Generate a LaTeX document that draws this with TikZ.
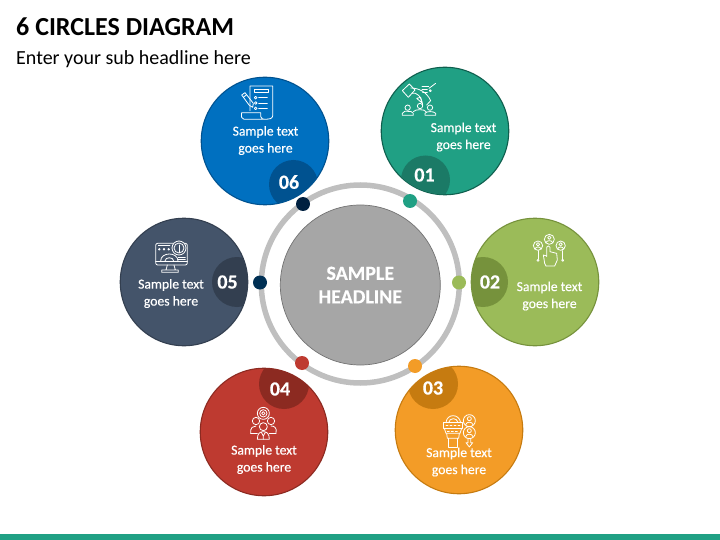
\documentclass[tikz,border=0pt]{standalone}
\usepackage{fontspec}
\setmainfont{Carlito}
\newfontfamily\samplefont[FakeBold=0.35]{Carlito}
\newfontfamily\heavyfont[FakeBold=0.4]{Carlito Bold}
\tikzset{
  bigdisc/.style={circle, minimum size=127.5pt, inner sep=0pt, line width=1.1pt},
  dotnode/.style={circle, minimum size=14pt, inner sep=0pt},
  sampletext/.style={text=white, align=center, inner sep=0pt, font=\samplefont\fontsize{13.7}{17}\selectfont},
  numtext/.style={text=white, inner sep=0pt, font=\heavyfont\fontsize{20}{20}\selectfont},
  iconline/.style={draw=white, line width=0.8pt, line join=round, line cap=round}
}
\begin{document}
\begin{tikzpicture}[x=1pt,y=-1pt]
    % Define colors
    \definecolor{tealmain}{RGB}{32,160,132}
    \definecolor{tealdark}{RGB}{27,122,102}
    \definecolor{tealedge}{RGB}{15,95,78}
    \definecolor{greenmain}{RGB}{155,187,89}
    \definecolor{greendark}{RGB}{118,146,60}
    \definecolor{orangemain}{RGB}{243,156,39}
    \definecolor{orangedark}{RGB}{198,123,16}
    \definecolor{redmain}{RGB}{190,58,48}
    \definecolor{reddark}{RGB}{140,42,33}
    \definecolor{slatemain}{RGB}{68,84,106}
    \definecolor{slatedark}{RGB}{51,63,80}
    \definecolor{bluemain}{RGB}{0,112,192}
    \definecolor{bluedark}{RGB}{0,82,144}
    \definecolor{navydot}{RGB}{0,32,64}
    \definecolor{petroldot}{RGB}{0,48,84}
    \definecolor{ringgrey}{RGB}{191,191,191}
    \definecolor{centregrey}{RGB}{166,166,166}
    \useasboundingbox (0,0) rectangle (720,540);

    % Draw title and bottom bar
    \node[anchor=base west, inner sep=0pt, font=\fontsize{26}{26}\selectfont\bfseries] (title) at (16,36) {6 CIRCLES DIAGRAM};
    \node[anchor=base west, inner sep=0pt, font=\fontsize{20}{20}\selectfont] (subtitle) at (16,65) {Enter your sub headline here};
    \fill[tealmain] (0,534) rectangle (720,540);

    % Draw ring and centre
    \draw[line width=5.5pt, color=ringgrey] (360.3,284) circle (99);
    \node[circle, minimum size=160pt, inner sep=0pt, fill=centregrey, draw=black!55, line width=0.7pt, text=white, align=center, font=\heavyfont\fontsize{20}{23.5}\selectfont] (centre) at (360.3,285) {SAMPLE\\HEADLINE};

    % Draw circle 01
    \node[bigdisc, fill=tealmain, draw=tealedge] (circle1) at (445,131) {};
    \begin{scope}
        \clip (445,131) circle (63.5);
        \fill[tealdark] (425.5,180) circle (24.5);
    \end{scope}
    \node[sampletext] (text1) at (463.5,137) {Sample text\\goes here};
    \node[numtext] (num1) at (424.5,175) {01};
    \node[dotnode, fill=tealmain] (dot1) at (410,201) {};
    \begin{scope}[shift={(370,60)}, scale=1/3, iconline]
        \draw (97,92) -- (118,72) -- (135,90) -- (115,112) -- cycle;
        \draw (122,84) .. controls (145,84) and (170,95) .. (182,122) -- (170,135);
        \draw (125,100) .. controls (140,95) and (155,110) .. (158,135);
        \draw (140,115) -- (152,112) -- (155,128) -- cycle;
        \draw (156,80) -- (176,80) (156,88) -- (172,88) (158,96) -- (172,96);
        \draw (181,92) circle (3);
        \draw (177,85) -- (197,70);
        \draw (113,143) circle (8) (150,138) circle (8) (180,143) circle (8);
        \draw (97,166) -- (97,160) .. controls (100,153) and (108,153) .. (113,154) .. controls (120,153) and (128,155) .. (130,160) -- (130,166) -- cycle;
        \draw (130,155) .. controls (135,147) and (165,147) .. (168,155);
        \draw (165,166) -- (165,160) .. controls (168,153) and (192,153) .. (197,160) -- (197,166) -- cycle;
    \end{scope}

    % Draw circle 02
    \node[bigdisc, fill=greenmain, draw=greendark] (circle2) at (535,282) {};
    \begin{scope}
        \clip (535,282) circle (63.5);
        \fill[greendark] (483,282) circle (25);
    \end{scope}
    \node[sampletext] (text2) at (549.5,296) {Sample text\\goes here};
    \node[numtext] (num2) at (490,282) {02};
    \node[dotnode, fill=greenmain] (dot2) at (459,282.5) {};
    \begin{scope}[shift={(450,210)}, scale=1/3, iconline]
        \draw (298,88) circle (15) (264,107) circle (14) (332,107) circle (14);
        \draw (298,83) circle (5) (264,103) circle (5) (332,103) circle (5);
        \draw (288,98) .. controls (290,90) and (306,90) .. (308,98);
        \draw (255,117) .. controls (257,109) and (271,109) .. (273,117);
        \draw (323,117) .. controls (325,109) and (339,109) .. (341,117);
        \draw (264,122) -- (264,148) (338,122) -- (338,148);
        \draw (264,151) circle (3) (338,151) circle (3);
        \draw (288,168) -- (314,168) (284,160) -- (280,135) -- (290,138) (290,140) -- (290,112) .. controls (292,106) and (298,106) .. (300,112) -- (300,125) -- (320,130) -- (322,150) -- (314,168);
        \draw (284,160) -- (288,168);
    \end{scope}

    % Draw circle 03
    \node[bigdisc, fill=orangemain, draw=orangedark] (circle3) at (459,430) {};
    \begin{scope}
        \clip (459,430) circle (63.5);
        \fill[orangedark] (433,384) circle (25);
    \end{scope}
    \node[sampletext] (text3) at (459,462) {Sample text\\goes here};
    \node[numtext] (num3) at (433,388) {03};
    \node[dotnode, fill=orangemain] (dot3) at (415,366) {};
    \begin{scope}[shift={(390,350)}, scale=1/3, iconline]
        \draw (168,218) .. controls (170,190) and (208,190) .. (212,218);
        \draw (176,218) .. controls (178,202) and (202,202) .. (204,218);
        \draw (160,218) -- (218,218) -- (218,235) -- (160,235) -- cycle;
        \draw (163,235) -- (168,250) -- (210,250) -- (215,235);
        \draw (170,250) -- (172,265) -- (206,265) -- (208,250);
        \draw (175,265) -- (175,292) -- (203,292) -- (203,265);
        \draw[dash pattern=on 2pt off 2pt] (168,227) -- (212,227) (172,243) -- (206,243);
        \draw (238,212) circle (18) (238,248) circle (18);
        \draw (238,206) circle (6) (238,242) circle (6);
        \draw (227,224) .. controls (229,214) and (247,214) .. (249,224);
        \draw (227,260) .. controls (229,250) and (247,250) .. (249,260);
        \draw (234,266) -- (234,278) -- (228,278) -- (238,291) -- (248,278) -- (242,278) -- (242,266);
    \end{scope}

    % Draw circle 04
    \node[bigdisc, fill=redmain, draw=reddark] (circle4) at (264,432) {};
    \begin{scope}
        \clip (264,432) circle (63.5);
        \fill[reddark] (284,384) circle (25);
    \end{scope}
    \node[sampletext] (text4) at (264,459.5) {Sample text\\goes here};
    \node[numtext] (num4) at (280,389) {04};
    \node[dotnode, fill=redmain] (dot4) at (302,363) {};
    \begin{scope}[shift={(190,350)}, scale=1/3, iconline]
        \draw (220,190) circle (18) (220,190) circle (11) (220,190) circle (5);
        \draw (198,213) circle (11) (243,213) circle (11);
        \draw[fill=redmain] (220,230) circle (12);
        \draw (182,250) .. controls (180,232) and (190,228) .. (198,228) (258,250) .. controls (262,232) and (252,228) .. (243,228);
        \draw (182,250) -- (202,250) (238,250) -- (258,250);
        \draw (202,268) .. controls (202,250) and (210,245) .. (220,245) .. controls (230,245) and (238,250) .. (238,268) -- cycle;
        \draw (214,247) -- (220,258) -- (226,247) (220,258) -- (220,268);
    \end{scope}

    % Draw circle 05
    \node[bigdisc, fill=slatemain, draw=slatedark] (circle5) at (184,282) {};
    \begin{scope}
        \clip (184,282) circle (63.5);
        \fill[slatedark] (237,282) circle (25);
    \end{scope}
    \node[sampletext] (text5) at (171,293.5) {Sample text\\goes here};
    \node[numtext] (num5) at (227.5,282) {05};
    \node[dotnode, fill=petroldot] (dot5) at (260,282.5) {};
    \begin{scope}[shift={(110,210)}, scale=1/3, iconline]
        \draw[rounded corners=2pt] (137,100) rectangle (232,165);
        \draw (137,153) -- (232,153);
        \draw (172,165) -- (168,180) (192,165) -- (196,180) (155,187) -- (205,187) -- (205,180) -- (155,180) -- cycle;
        \draw[fill=slatemain] (207,114) circle (21);
        \draw (207,114) circle (15);
        \draw (207,105) -- (207,128);
        \draw (152,153) .. controls (152,125) and (204,125) .. (204,153);
        \draw (165,153) .. controls (165,140) and (191,140) .. (191,153);
        \draw (148,118) circle (2.5) (162,118) circle (2.5) (176,118) circle (2.5);
        \draw (145,106) -- (180,106) (205,142) -- (226,142) (205,148) -- (226,148);
    \end{scope}

    % Draw circle 06
    \node[bigdisc, fill=bluemain, draw=bluedark] (circle6) at (265,141) {};
    \begin{scope}
        \clip (265,141) circle (63.5);
        \fill[bluedark] (293.5,184.5) circle (24.5);
    \end{scope}
    \node[sampletext] (text6) at (265.5,140.5) {Sample text\\goes here};
    \node[numtext] (num6) at (289,182) {06};
    \node[dotnode, fill=navydot] (dot6) at (303,204) {};
    \begin{scope}[shift={(190,70)}, scale=1/3, iconline]
        \draw (180,122) -- (180,48) -- (248,48) -- (248,138) .. controls (248,146) and (236,148) .. (228,148) -- (162,148) .. controls (155,148) and (153,140) .. (155,128) -- (212,128) -- (212,140) .. controls (212,146) and (222,150) .. (228,148);
        \draw (192,58) rectangle (235,67);
        \draw (197,83) circle (4) (197,99) circle (4) (197,115) circle (4);
        \draw (206,83) -- (232,83) (206,99) -- (232,99) (206,115) -- (232,115);
        \draw (155,75) -- (165,68) -- (190,100) -- (188,112) -- (178,106) -- cycle;
        \draw (160,82) -- (170,74);
    \end{scope}
\end{tikzpicture}
\end{document}
